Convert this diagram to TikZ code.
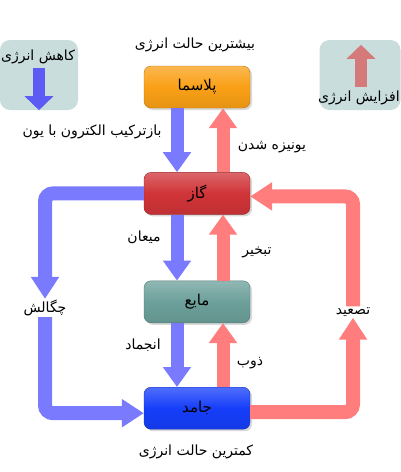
\documentclass[tikz,border=0pt]{standalone}
\usepackage{fontspec}
\setmainfont{DejaVu Sans}
\newfontfamily\persianfont[Script=Arabic]{DejaVu Sans}
\TeXXeTstate=1
\newcommand{\fa}[1]{{\persianfont\beginR #1\endR}}
\usetikzlibrary{arrows.meta, positioning, shadows}
\definecolor{plasmaorange}{RGB}{250,160,22}
\definecolor{gasred}{RGB}{208,52,56}
\definecolor{liquidteal}{RGB}{108,160,154}
\definecolor{solidblue}{RGB}{22,62,250}
\definecolor{flowblue}{RGB}{122,122,255}
\definecolor{flowred}{RGB}{255,125,125}
\definecolor{legendgray}{RGB}{201,221,221}
\definecolor{lossblue}{RGB}{92,92,245}
\definecolor{gainred}{RGB}{212,122,122}

\begin{document}
\begin{tikzpicture}[
  x=1pt, y=-1pt,
  phase/.style={
    rectangle, rounded corners=7pt,
    minimum width=106pt, minimum height=42pt,
    draw=#1!75!black, top color=#1!75!white,
    bottom color=#1!92!black, middle color=#1,
    drop shadow={shadow xshift=2pt, shadow yshift=-2pt, opacity=0.3},
    font=\fontsize{15}{17}\selectfont
  },
  legend/.style={
    rectangle, rounded corners=10pt, fill=legendgray,
    minimum width=#1, minimum height=70pt
  },
  flow/.style={line width=13pt, -{Triangle[width=27pt,length=20pt]}},
  sideflow/.style={line width=14pt, rounded corners=8pt,
    -{Triangle[width=27pt,length=22pt]}},
  mark arrow/.style={line width=12pt, -{Triangle[width=28pt,length=14pt]}},
  every node/.style={font=\fontsize{14}{16}\selectfont}
]
  \useasboundingbox (0,0) rectangle (400,472);

  % Legend boxes
  \node[legend=78pt] (loss) at (39,75) {};
  \node[legend=81pt] (gain) at (360,75) {};
  \node (losstext) at (38,57) {\fa{کاهش انرژی}};
  \node (gaintext) at (359,98) {\fa{افزایش انرژی}};
  \coordinate (lossfrom) at (39,68);
  \coordinate (gainfrom) at (361,87);
  \draw[mark arrow, draw=lossblue] (lossfrom) -- (loss.south);
  \draw[mark arrow, draw=gainred] (gainfrom) -- ([xshift=1pt,yshift=-5pt]gain.north);

  % Phases top-down
  \node[phase=plasmaorange] (plasma) at (197,87) {\fa{پلاسما}};
  \node[phase=gasred, below=64pt of plasma] (gas) {\fa{گاز}};
  \node[phase=liquidteal, below=66pt of gas] (liquid) {\fa{مایع}};
  \node[phase=solidblue, below=64pt of liquid] (solid) {\fa{جامد}};

  \node (top)    at (195,45)  {\fa{بیشترین حالت انرژی}};
  \node (bottom) at (196,452) {\fa{کمترین حالت انرژی}};

  % Transition labels
  \node (recomb) at (92,132)  {\fa{بازترکیب الکترون با یون}};
  \node (ionize) at (272,147) {\fa{یونیزه شدن}};
  \node (cond)   at (144,237) {\fa{میعان}};
  \node (evap)   at (257,252) {\fa{تبخیر}};
  \node (freeze) at (143,345) {\fa{انجماد}};
  \node (melt)   at (250,363) {\fa{ذوب}};
  \node[inner sep=1pt] (depo) at (45,308)  {\fa{چگالش}};
  \node[inner sep=1pt] (subl) at (353,312) {\fa{تصعید}};

  % Vertical transitions
  \draw[flow, draw=flowblue] ([xshift=-20pt]plasma.south) -- ([xshift=-20pt]gas.north);
  \draw[flow, draw=flowred]  ([xshift=26pt]gas.north) -- ([xshift=26pt]plasma.south);
  \draw[flow, draw=flowblue] ([xshift=-20pt]gas.south) -- ([xshift=-20pt]liquid.north);
  \draw[flow, draw=flowred]  ([xshift=26pt]liquid.north) -- ([xshift=26pt]gas.south);
  \draw[flow, draw=flowblue] ([xshift=-20pt]liquid.south) -- ([xshift=-20pt]solid.north);
  \draw[flow, draw=flowred]  ([xshift=26pt]solid.north) -- ([xshift=26pt]liquid.south);

  % Side loops
  \draw[sideflow, draw=flowblue] (gas.west) -| (depo.north);
  \draw[sideflow, draw=flowblue] (depo.south) |- ([yshift=-5pt]solid.west);
  \draw[sideflow, draw=flowred]  ([yshift=-4pt]solid.east) -| (subl.south);
  \draw[sideflow, draw=flowred]  (subl.north) |- ([yshift=-3pt]gas.east);
\end{tikzpicture}
\end{document}
